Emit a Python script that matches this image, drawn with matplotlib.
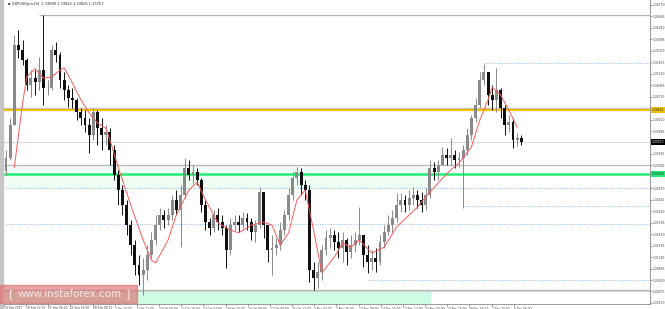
import numpy as np
import matplotlib
matplotlib.use("Agg")
from matplotlib import pyplot as plt
from matplotlib.patches import Rectangle
import matplotlib.transforms as mtransforms

# GBPUSD H4, one candle here = three H4 bars
first_open = 1.3305
closes = [1.3334, 1.3408, 1.3586, 1.3575, 1.3553, 1.3497, 1.3512, 1.3504, 1.3530, 1.3490,
          1.3490, 1.3575, 1.3564, 1.3508, 1.3486, 1.3468, 1.3464, 1.3437, 1.3423, 1.3408,
          1.3386, 1.3437, 1.3401, 1.3386, 1.3392, 1.3352, 1.3297, 1.3263, 1.3230, 1.3185,
          1.3141, 1.3096, 1.3074, 1.3085, 1.3119, 1.3152, 1.3185, 1.3208, 1.3197, 1.3208,
          1.3241, 1.3219, 1.3252, 1.3312, 1.3297, 1.3303, 1.3286, 1.3230, 1.3192, 1.3179,
          1.3208, 1.3192, 1.3179, 1.3130, 1.3185, 1.3192, 1.3185, 1.3201, 1.3192, 1.3170,
          1.3185, 1.3259, 1.3185, 1.3130, 1.3134, 1.3141, 1.3174, 1.3208, 1.3252, 1.3290,
          1.3303, 1.3274, 1.3263, 1.3085, 1.3067, 1.3081, 1.3130, 1.3156, 1.3163, 1.3148,
          1.3134, 1.3152, 1.3125, 1.3141, 1.3152, 1.3163, 1.3119, 1.3103, 1.3112, 1.3103,
          1.3148, 1.3170, 1.3185, 1.3201, 1.3230, 1.3241, 1.3230, 1.3245, 1.3252, 1.3241,
          1.3230, 1.3252, 1.3312, 1.3303, 1.3319, 1.3341, 1.3334, 1.3341, 1.3330, 1.3334,
          1.3352, 1.3386, 1.3423, 1.3452, 1.3508, 1.3526, 1.3475, 1.3464, 1.3486, 1.3446,
          1.3408, 1.3415, 1.3375, 1.3379, 1.3370]
highs = [1.3352, 1.3423, 1.3608, 1.3619, 1.3597, 1.3557, 1.3530, 1.3530, 1.3559, 1.3653,
         1.3508, 1.3586, 1.3593, 1.3570, 1.3526, 1.3497, 1.3490, 1.3468, 1.3446, 1.3441,
         1.3423, 1.3446, 1.3441, 1.3423, 1.3408, 1.3401, 1.3363, 1.3308, 1.3274, 1.3241,
         1.3197, 1.3152, 1.3119, 1.3112, 1.3141, 1.3170, 1.3208, 1.3223, 1.3219, 1.3223,
         1.3252, 1.3263, 1.3274, 1.3334, 1.3330, 1.3319, 1.3312, 1.3290, 1.3241, 1.3201,
         1.3219, 1.3223, 1.3208, 1.3185, 1.3201, 1.3208, 1.3208, 1.3214, 1.3212, 1.3201,
         1.3197, 1.3270, 1.3259, 1.3185, 1.3163, 1.3156, 1.3192, 1.3219, 1.3268, 1.3303,
         1.3314, 1.3312, 1.3286, 1.3274, 1.3103, 1.3103, 1.3141, 1.3174, 1.3179, 1.3174,
         1.3170, 1.3170, 1.3156, 1.3163, 1.3170, 1.3225, 1.3152, 1.3141, 1.3130, 1.3134,
         1.3163, 1.3185, 1.3208, 1.3219, 1.3257, 1.3257, 1.3252, 1.3263, 1.3270, 1.3263,
         1.3259, 1.3268, 1.3330, 1.3326, 1.3330, 1.3359, 1.3357, 1.3379, 1.3352, 1.3348,
         1.3363, 1.3401, 1.3430, 1.3468, 1.3526, 1.3544, 1.3526, 1.3497, 1.3535, 1.3490,
         1.3452, 1.3430, 1.3423, 1.3390, 1.3386]
lows = [1.3297, 1.3330, 1.3408, 1.3557, 1.3541, 1.3486, 1.3470, 1.3475, 1.3486, 1.3452,
        1.3475, 1.3486, 1.3548, 1.3490, 1.3464, 1.3448, 1.3446, 1.3419, 1.3408, 1.3392,
        1.3346, 1.3375, 1.3363, 1.3352, 1.3363, 1.3319, 1.3286, 1.3230, 1.3208, 1.3163,
        1.3119, 1.3074, 1.3052, 1.3030, 1.3063, 1.3112, 1.3141, 1.3174, 1.3179, 1.3185,
        1.3197, 1.3208, 1.3136, 1.3245, 1.3286, 1.3279, 1.3274, 1.3214, 1.3174, 1.3163,
        1.3170, 1.3174, 1.3163, 1.3090, 1.3119, 1.3174, 1.3170, 1.3179, 1.3174, 1.3152,
        1.3148, 1.3179, 1.3156, 1.3103, 1.3074, 1.3119, 1.3130, 1.3163, 1.3197, 1.3241,
        1.3274, 1.3252, 1.3241, 1.3059, 1.3041, 1.3045, 1.3063, 1.3119, 1.3134, 1.3130,
        1.3112, 1.3103, 1.3096, 1.3112, 1.3125, 1.3141, 1.3092, 1.3079, 1.3085, 1.3081,
        1.3096, 1.3134, 1.3163, 1.3170, 1.3192, 1.3214, 1.3214, 1.3219, 1.3230, 1.3223,
        1.3214, 1.3219, 1.3245, 1.3286, 1.3286, 1.3319, 1.3319, 1.3319, 1.3312, 1.3314,
        1.3223, 1.3341, 1.3375, 1.3415, 1.3446, 1.3497, 1.3452, 1.3441, 1.3437, 1.3423,
        1.3386, 1.3392, 1.3357, 1.3361, 1.3363]
opens = [first_open] + closes[:-1]

# red moving average
ma_pos = [2, 4, 5, 7, 9, 11, 13, 14, 16, 18, 20, 22, 24, 25, 27, 30, 33, 35, 36, 39,
          41, 44, 46, 48, 51, 54, 56, 59, 62, 64, 66, 68, 70, 72, 74, 76, 79, 81, 83, 85,
          88, 91, 94, 99, 101, 104, 107, 109, 112, 114, 116, 117, 119, 121, 123]
ma_val = [1.3314, 1.3457, 1.3515, 1.3533, 1.3512, 1.3515, 1.3530, 1.3535, 1.3501, 1.3464,
          1.3435, 1.3412, 1.3401, 1.3375, 1.3314, 1.3230, 1.3152, 1.3107, 1.3101, 1.3152,
          1.3208, 1.3263, 1.3281, 1.3241, 1.3190, 1.3174, 1.3168, 1.3185, 1.3192, 1.3185,
          1.3141, 1.3168, 1.3241, 1.3263, 1.3174, 1.3079, 1.3114, 1.3145, 1.3136, 1.3152,
          1.3123, 1.3136, 1.3181, 1.3225, 1.3248, 1.3279, 1.3308, 1.3323, 1.3359, 1.3419,
          1.3464, 1.3492, 1.3475, 1.3441, 1.3403]

# horizontal objects
sep_high, sep_high_from = 1.3653, 8
dec_high, dec_high_from = 1.3546, 115
gold_level = 1.3441
zone_top, zone_bottom, zone_end = 1.3319, 1.3268, 102
green_level = 1.3299
dotted_levels = [1.3268, 1.3227, 1.3187, 1.3063]
dotted_from = [0, 110, 0, 87]
floor_level = 1.3041

x_labels = ["14 Sep 2017", "18 Sep 12:00", "21 Sep 04:00", "25 Sep 16:00", "28 Sep 08:00",
            "2 Oct 20:00", "5 Oct 12:00", "10 Oct 00:00", "12 Oct 16:00", "17 Oct 04:00",
            "19 Oct 20:00", "24 Oct 08:00", "27 Oct 00:00", "31 Oct 12:00", "3 Nov 04:00",
            "7 Nov 16:00", "10 Nov 08:00", "14 Nov 20:00", "17 Nov 12:00", "22 Nov 00:00",
            "24 Nov 16:00", "29 Nov 04:00", "1 Dec 20:00", "6 Dec 08:00"]
title = "GBPUSDpro,H4  1.33889 1.33822 1.33826 1.33757"

W, H = 665, 309
fig = plt.figure(figsize=(W / 100, H / 100), dpi=100)
ax = fig.add_axes([4 / W, 5 / H, 646 / W, 304 / H])
ax.set_xlim(-0.24, 154.96)
ax.set_ylim(1.3686 - 304 * 0.0002225, 1.3686)

fig.patches.append(Rectangle((0, 0), 3 / W, 1, transform=fig.transFigure,
                             color="#c6c6c6", zorder=0))

# zones
ax.add_patch(Rectangle((-0.24, zone_bottom), zone_end + 0.24, zone_top - zone_bottom,
                       color="#effdf4", zorder=0))
ax.add_patch(Rectangle((-0.24, 1.29), zone_end + 0.24, floor_level - 1.29,
                       color="#cdfbe3", zorder=0))

xmax = 154.96
ax.hlines(sep_high, sep_high_from, xmax, color="#b4b4b4", lw=0.9, zorder=1)
ax.hlines(dec_high, dec_high_from, xmax, color="#a9c9f2", lw=0.8, ls=(0, (1, 1)), zorder=1)
ax.axhline(gold_level + 0.0004, color="#c4c4c4", lw=1.0, zorder=1)
ax.axhline(gold_level, color="#f2c200", lw=1.6, zorder=2)
ax.axhline(closes[-1], color="#dadada", lw=0.8, zorder=1)
ax.axhline(zone_top, color="#b8b8b8", lw=0.9, zorder=1)
ax.axhline(green_level, color="#22ee77", lw=1.8, zorder=2)
for lvl, start in zip(dotted_levels, dotted_from):
    ax.hlines(lvl, start, xmax, color="#a9c9f2", lw=0.8, ls=(0, (1, 1)), zorder=1)
ax.axhline(floor_level, color="#b8b8b8", lw=0.9, zorder=1)
ax.axhline(floor_level - 0.0002, color="#d0d0d0", lw=0.7, zorder=1)

# candles
idx = np.arange(len(closes))
o, c = np.array(opens), np.array(closes)
up = c >= o
colors = np.where(up, "#8a8a8a", "#101010")
ax.vlines(idx, lows, highs, colors=colors, lw=0.7, zorder=3)
body = np.maximum(np.abs(c - o), 0.00012)
ax.bar(idx, body, bottom=np.minimum(o, c), width=0.7, color=colors, lw=0, zorder=4)

ax.plot(ma_pos, ma_val, color="#ff5a5a", lw=0.7, zorder=5)

# axes styling
for side in ["left", "top"]:
    ax.spines[side].set_visible(False)
ax.spines["right"].set_color("#8a8a8a")
ax.spines["bottom"].set_color("#8a8a8a")
ax.spines["right"].set_linewidth(0.6)
ax.spines["bottom"].set_linewidth(0.6)

# price boxes sit on top of the scale and hide the labels under them
boxes = [(gold_level, "#f2c200", "#202020"), (green_level, "#22ee77", "#202020"),
         (closes[-1], "#000000", "#ffffff")]

yt = 1.30120 + 0.00255 * np.arange(27)
yt = [v for v in yt if min(abs(v - b[0]) for b in boxes) > 0.0013]
ax.yaxis.tick_right()
ax.set_yticks(yt)
ax.set_yticklabels([f"{v:.5f}" for v in yt])
ax.tick_params(axis="y", labelsize=2.2, colors="#404040", length=1.5, width=0.4, pad=0.6)

xt = np.arange(len(x_labels)) * 16 / 3 - 0.48
ax.set_xticks(xt)
ax.set_xticklabels(x_labels, ha="left")
ax.tick_params(axis="x", labelsize=2.1, colors="#404040", length=1.5, width=0.4, pad=0.3)

trans = mtransforms.blended_transform_factory(ax.transAxes, ax.transData)
for val, fc, tc in boxes:
    ax.text(1.003, val, f"{val:.5f}", transform=trans, fontsize=2.2, color=tc,
            va="center", ha="left", zorder=10, clip_on=False,
            bbox=dict(boxstyle="square,pad=0.3", fc=fc, ec="none"))

fig.text(8 / W, 1 - 4 / H, "\u25aa " + title, fontsize=2.6, color="#303030", va="center")

# watermark
fig.patches.append(Rectangle((0, 6 / H), 137 / W, 18 / H, transform=fig.transFigure,
                             color="#dc7070", alpha=0.65, zorder=20))
fig.text(9 / W, 15 / H, "[", fontsize=8, color="#f6e6e6", va="center", zorder=21)
fig.text(18 / W, 15 / H, "www.instaforex.com", fontsize=7.4, color="#f6e6e6",
         va="center", zorder=21)
fig.text(126 / W, 15 / H, "]", fontsize=8, color="#f6e6e6", va="center", zorder=21)

fig.savefig("out.png", dpi=100)
